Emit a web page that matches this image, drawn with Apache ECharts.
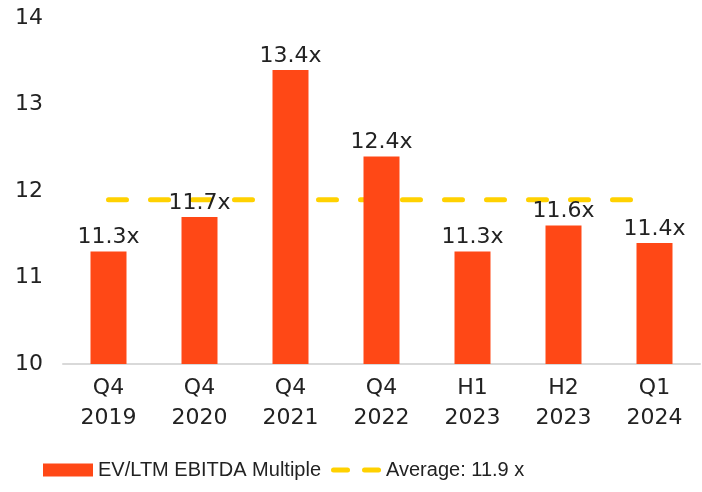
<!DOCTYPE html>
<html>
<head>
<meta charset="utf-8">
<script src="https://cdn.jsdelivr.net/npm/echarts@6/dist/echarts.min.js"></script>
<style>
  html, body { margin: 0; padding: 0; background: #fff; }
  #chart { width: 702px; height: 492px; }
</style>
</head>
<body>
<div id="chart"></div>
<script>
// periods on the x axis
var periods = ['Q4\n2019', 'Q4\n2020', 'Q4\n2021', 'Q4\n2022', 'H1\n2023', 'H2\n2023', 'Q1\n2024']
// EV/LTM EBITDA multiple per period
var multiples = [11.3, 11.7, 13.4, 12.4, 11.3, 11.6, 11.4]
// average line value
var averageValue = 11.9
var averageLine = periods.map(function() { return averageValue })

var chart = echarts.init(document.getElementById('chart'))
var font = '"DejaVu Sans", sans-serif'
var legendFont = '"Liberation Sans", sans-serif'

chart.setOption({
  animation: false,
  textStyle: { fontFamily: font },
  grid: {
    top: 18,
    left: 63,
    right: 2,
    bottom: 128
  },
  legend: {
    bottom: 7,
    left: 38,
    itemWidth: 50,
    itemHeight: 13,
    itemGap: 10,
    textStyle: { fontSize: 20, color: '#222', fontFamily: legendFont },
    data: [
      { name: 'EV/LTM EBITDA Multiple', icon: 'rect' },
      {
        name: 'Average: 11.9 x',
        icon: 'path://M2,0h14a2,2 0 0 1 0,5h-14a2,2 0 0 1 0,-5z M33,0h14a2,2 0 0 1 0,5h-14a2,2 0 0 1 0,-5z',
        itemStyle: { color: '#FFD100' }
      }
    ]
  },
  xAxis: {
    type: 'category',
    data: periods,
    axisTick: { show: false },
    axisLine: { lineStyle: { color: '#d9d9d9', width: 2 } },
    axisLabel: {
      color: '#222',
      fontSize: 22,
      lineHeight: 30,
      margin: 9
    }
  },
  yAxis: {
    type: 'value',
    min: 10,
    max: 14,
    interval: 1,
    splitLine: { show: false },
    axisLine: { show: false },
    axisLabel: { color: '#222', fontSize: 22, margin: 20 }
  },
  series: [
    {
      name: 'EV/LTM EBITDA Multiple',
      type: 'bar',
      data: multiples,
      barWidth: 36,
      itemStyle: { color: '#FF4816' },
      label: {
        show: true,
        position: 'top',
        distance: 3,
        fontSize: 22,
        color: '#222',
        formatter: function(p) { return p.value.toFixed(1) + 'x' }
      }
    },
    {
      name: 'Average: 11.9 x',
      type: 'line',
      data: averageLine,
      symbol: 'none',
      z: 1,
      itemStyle: { color: '#FFD100' },
      lineStyle: {
        color: '#FFD100',
        width: 5,
        type: [18, 24],
        cap: 'round'
      }
    }
  ]
})
</script>
</body>
</html>
